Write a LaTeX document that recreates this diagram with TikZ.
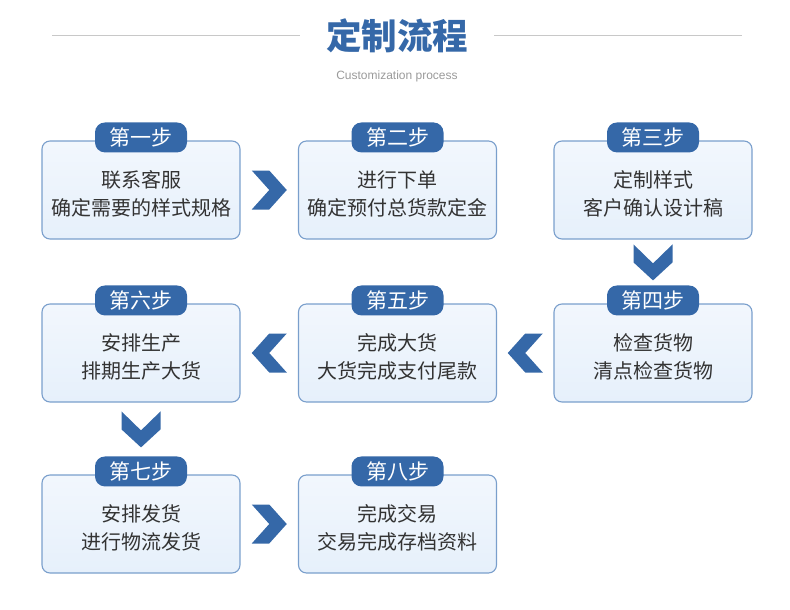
\documentclass[tikz,border=0pt]{standalone}
\usepackage{fontspec}
\setmainfont{Liberation Sans}
\newfontfamily\cjk{Noto Sans CJK SC}
\usetikzlibrary{positioning}
\definecolor{stepblue}{HTML}{3568A8}
\definecolor{boxline}{HTML}{7A9FCC}
\definecolor{boxtop}{HTML}{F2F7FD}
\definecolor{boxbot}{HTML}{E6F0FB}
\definecolor{rulegray}{HTML}{C8C8C8}
\definecolor{subgray}{HTML}{9A9A9A}
\definecolor{txtgray}{HTML}{333333}

\begin{document}
\begin{tikzpicture}
    [x=1pt,y=-1pt,
     stepbox/.style={draw=boxline, line width=1.1pt, top color=boxtop, bottom color=boxbot, rounded corners=8pt, minimum width=198pt, minimum height=98pt, inner sep=0pt},
     steptxt/.style={align=center, text=txtgray, inner sep=0pt, font=\cjk\fontsize{20}{27.5}\selectfont},
     steptag/.style={fill=stepblue, rounded corners=10pt, minimum width=92pt, minimum height=30pt, inner sep=0pt, text=white, font=\cjk\fontsize{21}{21}\selectfont},
     chev/.style={fill=stepblue}]
  \useasboundingbox (0,0) rectangle (790,610);

  % heading
  \node[text=stepblue, font=\cjk\bfseries\fontsize{35.5}{35.5}\selectfont] (title) at (397,36) {定制流程};
  \node[text=subgray, font=\fontsize{12}{12}\selectfont] (sub) at (397,76) {Customization process};
  \coordinate (r1) at (52,35);
  \coordinate (r2) at (300,35);
  \coordinate (r3) at (494,35);
  \coordinate (r4) at (742,35);
  \draw[rulegray, line width=0.9pt] (r1) -- (r2) (r3) -- (r4);

  % boxes
  \foreach \i/\x/\y/\tag/\a/\b in {
      1/141/190/第一步/联系客服/确定需要的样式规格,
      2/397.5/190/第二步/进行下单/确定预付总货款定金,
      3/653/190/第三步/定制样式/客户确认设计稿,
      4/653/353/第四步/检查货物/清点检查货物,
      5/397.5/353/第五步/完成大货/大货完成支付尾款,
      6/141/353/第六步/安排生产/排期生产大货,
      7/141/524/第七步/安排发货/进行物流发货,
      8/397.5/524/第八步/完成交易/交易完成存档资料}{
    \node[stepbox] (s\i) at (\x,\y) {};
    \node[steptxt] (w\i) at ([yshift=-4pt]s\i.center) {\a\\\b};
    \node[steptag] (t\i) at ([yshift=3pt]s\i.north) {\tag};
  }

  % chevrons
  \foreach \from/\to/\c in {s1/s2/c12, s7/s8/c78}{
    \path (\from.east) -- (\to.west) coordinate[midway] (\c);
    \fill[chev, shift={(\c)}] (-17.5,-19.5) -- (0,-19.5) -- (17.5,0) -- (0,19.5) -- (-17.5,19.5) -- (0,0) -- cycle;
  }
  \foreach \from/\to/\c in {s4/s5/c45, s5/s6/c56}{
    \path (\from.west) -- (\to.east) coordinate[midway] (\c);
    \fill[chev, shift={(\c)}] (17.5,-19.5) -- (0,-19.5) -- (-17.5,0) -- (0,19.5) -- (17.5,19.5) -- (0,0) -- cycle;
  }
  \foreach \from/\to/\c in {s3/t4/c34, s6/t7/c67}{
    \path (\from.south) -- (\to.north) coordinate[midway] (\c);
    \fill[chev, shift={(\c)}] (-19.5,-18) -- (-19.5,0) -- (0,18) -- (19.5,0) -- (19.5,-18) -- (0,1) -- cycle;
  }
\end{tikzpicture}
\end{document}
